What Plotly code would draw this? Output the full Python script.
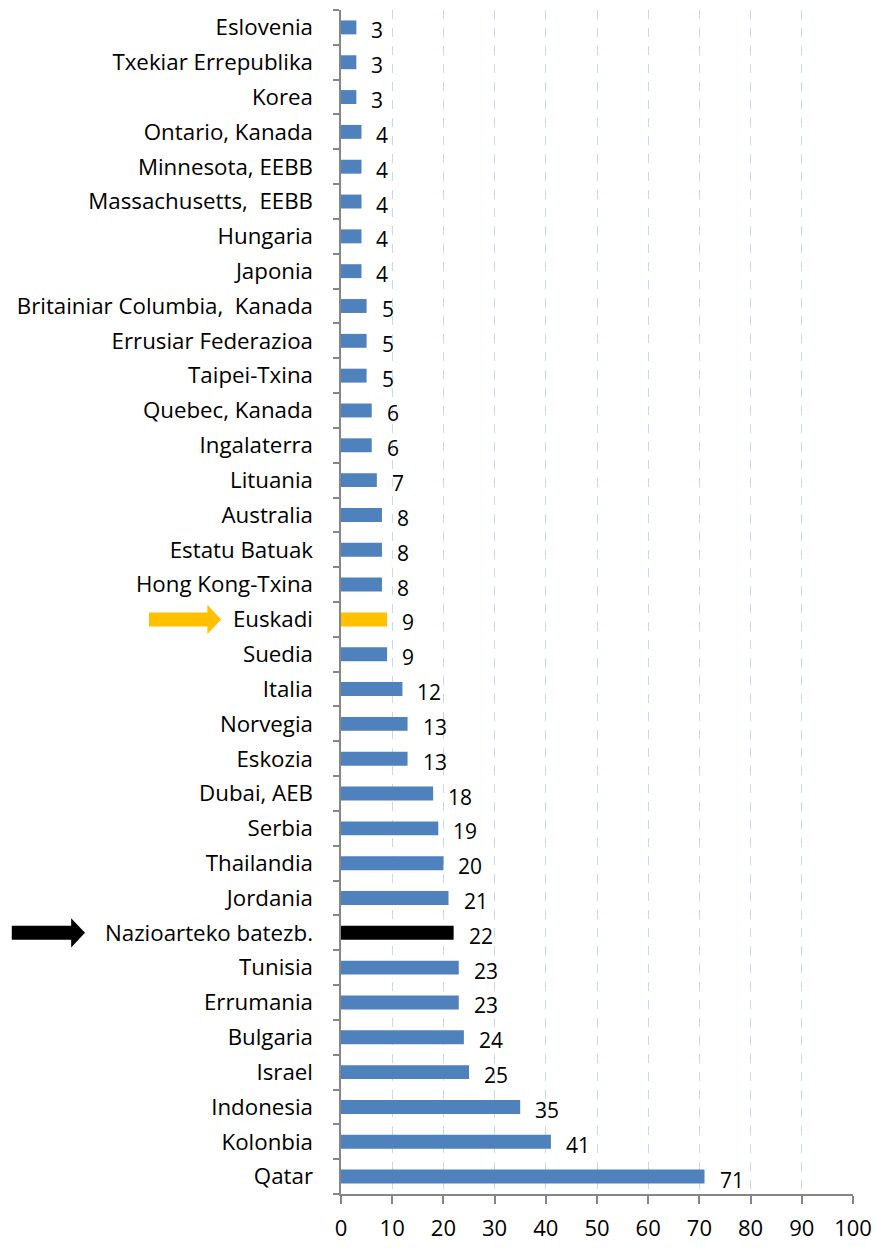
import plotly.graph_objects as go

# Categories listed top to bottom
countries = [
    "Eslovenia", "Txekiar Errepublika", "Korea", "Ontario, Kanada",
    "Minnesota, EEBB", "Massachusetts,  EEBB", "Hungaria", "Japonia",
    "Britainiar Columbia,  Kanada", "Errusiar Federazioa", "Taipei-Txina",
    "Quebec, Kanada", "Ingalaterra", "Lituania", "Australia", "Estatu Batuak",
    "Hong Kong-Txina", "Euskadi", "Suedia", "Italia", "Norvegia", "Eskozia",
    "Dubai, AEB", "Serbia", "Thailandia", "Jordania", "Nazioarteko batezb.",
    "Tunisia", "Errumania", "Bulgaria", "Israel", "Indonesia", "Kolonbia",
    "Qatar",
]
values = [3, 3, 3, 4, 4, 4, 4, 4, 5, 5, 5, 6, 6, 7, 8, 8, 8, 9, 9, 12, 13, 13,
          18, 19, 20, 21, 22, 23, 23, 24, 25, 35, 41, 71]
x_ticks = list(range(0, 101, 10))

BLUE = "#4F81BD"
GOLD = "#FFC000"
BLACK = "#000000"
AXIS = "#868686"
highlight = {"Euskadi": GOLD, "Nazioarteko batezb.": BLACK}
colors = [highlight.get(c, BLUE) for c in countries]

FONT = "'Open Sans', Lato, sans-serif"
n = len(countries)
rows = list(range(n))

fig = go.Figure()
fig.add_trace(go.Bar(
    x=values, y=rows, orientation="h",
    marker=dict(color=colors, line=dict(width=0)),
    customdata=countries, hovertemplate="%{customdata}: %{x}<extra></extra>",
))
# Empty trace that binds the label axis
fig.add_trace(go.Scatter(x=[None], y=[None], yaxis="y2", showlegend=False,
                         hoverinfo="skip"))

# Value labels to the right of each bar
for r, v in zip(rows, values):
    fig.add_annotation(
        x=v, y=r, xref="x", yref="y", text=str(v), showarrow=False,
        xanchor="left", yanchor="middle", xshift=13, yshift=-3,
        font=dict(family=FONT, size=21, color="black"),
    )

# Block arrows pointing at the highlighted rows (x in paper units, y in row index)
def block_arrow(row, x_tail, x_tip, head_len, color):
    idx = countries.index(row)
    s, h = 0.2, 0.42
    xb = x_tip - head_len
    path = (f"M {x_tail},{idx - s} L {xb},{idx - s} L {xb},{idx - h} "
            f"L {x_tip},{idx} L {xb},{idx + h} L {xb},{idx + s} "
            f"L {x_tail},{idx + s} Z")
    fig.add_shape(type="path", path=path, xref="paper", yref="y",
                  fillcolor=color, line=dict(width=0), layer="above")

block_arrow("Euskadi", -0.375, -0.234, 0.027, GOLD)
block_arrow("Nazioarteko batezb.", -0.643, -0.5, 0.027, BLACK)

boundaries = [r + 0.5 for r in range(-1, n)]

fig.update_layout(
    width=877, height=1249,
    margin=dict(l=341, r=24, t=10, b=55, autoexpand=False),
    paper_bgcolor="white", plot_bgcolor="white",
    showlegend=False, bargap=0.6,
    font=dict(family=FONT, size=20, color="black"),
    xaxis=dict(
        range=[0, 100], tickvals=x_ticks, ticktext=[str(t) for t in x_ticks],
        showgrid=True, gridcolor="#C6D9F1", griddash="dash", gridwidth=1,
        zeroline=False, showline=True, linecolor=AXIS, linewidth=2,
        ticks="outside", ticklen=8, tickcolor=AXIS, tickwidth=2,
        ticklabelstandoff=6, automargin=False,
        tickfont=dict(family=FONT, size=22, color="black"),
        fixedrange=True,
    ),
    # Tick marks at the row boundaries
    yaxis=dict(
        range=[n - 0.5, -0.5],
        tickvals=boundaries, ticktext=["" for _ in boundaries],
        ticks="outside", ticklen=6, tickcolor=AXIS, tickwidth=2,
        showgrid=False, zeroline=False,
        showline=True, linecolor=AXIS, linewidth=2,
        automargin=False, fixedrange=True,
    ),
    # Row labels
    yaxis2=dict(
        overlaying="y", side="left", range=[n - 0.5, -0.5],
        tickvals=rows, ticktext=countries, ticks="",
        showgrid=False, zeroline=False, showline=False,
        ticklabelstandoff=27, automargin=False,
        tickfont=dict(family=FONT, size=22.3, color="black"),
        fixedrange=True,
    ),
)

fig.write_html("out.html")
